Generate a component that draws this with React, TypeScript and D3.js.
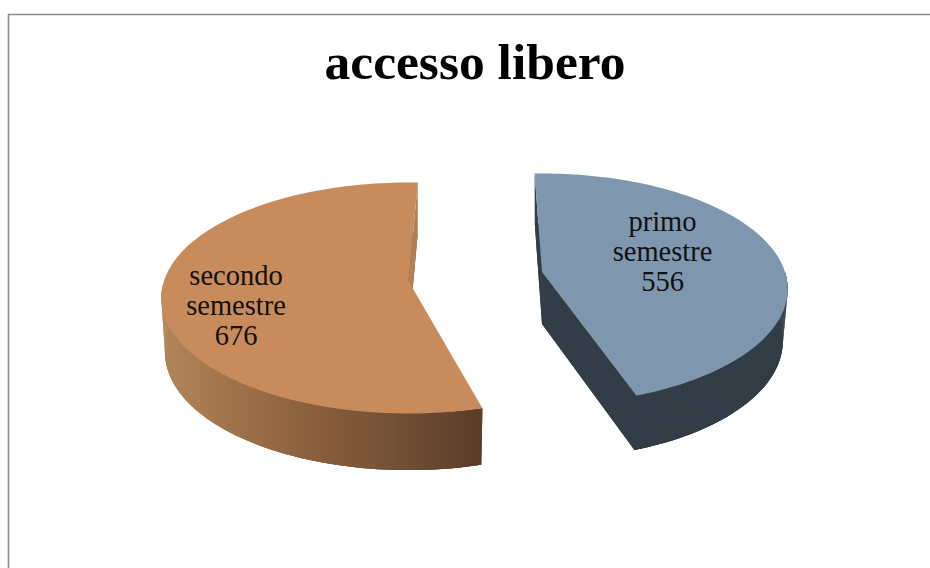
import React from "react";
import * as d3 from "d3";

const categories = ["primo semestre", "secondo semestre"];
const values = [556, 676];
const labelLines = [["primo", "semestre", "556"], ["secondo", "semestre", "676"]];
const title = "accesso libero";
const topColors = ["#7f97ae", "#c88b5c"];

const deg = Math.PI / 180;
// projection of the tilted disc
const RY = 113, PERSP = 0.147;
// per-slice placement (explosion)
const slices = [
  { ax: 542, ay: 272, rx: 243, rot: -2 * deg, depth: 52, sx: 0.98, sy: 1.02 },
  { ax: 408.5, ay: 281, rx: 244.5, rot: 2.5 * deg, depth: 54, sx: 0.985, sy: 1.02 },
];
const labelPos = [{ x: 662.5, y: 231 }, { x: 236, y: 285 }];

const pie = d3.pie<number>().sort(null).value((d) => d);
const arcs = pie(values);

type P = [number, number];
function project(i: number, t: number, bottom: boolean): P {
  const s = slices[i];
  const X = Math.sin(t), Y = Math.cos(t);
  const w = 1 + PERSP * Y;
  const kx = bottom ? s.sx : 1, ky = bottom ? s.sy : 1;
  return [s.ax + (s.rx * kx * X) / w, s.ay + (bottom ? s.depth : 0) - (RY * ky * Y) / w];
}
function arcPts(i: number, bottom: boolean): P[] {
  const a = arcs[i].startAngle + slices[i].rot, b = arcs[i].endAngle + slices[i].rot;
  return d3.range(0, 121).map((k) => project(i, a + ((b - a) * k) / 120, bottom));
}
const line = d3.line<P>();
const closed = (pts: P[]) => line(pts) + "Z";

export default function App() {
  return (
    <svg width={930} height={568} style={{ position: "absolute", left: 0, top: 0, background: "#fff" }}>
      <defs>
        <linearGradient id="wallO" gradientUnits="userSpaceOnUse" x1={161} x2={484} y1={0} y2={0}>
          <stop offset="0" stopColor="#b28559" />
          <stop offset="0.4" stopColor="#906440" />
          <stop offset="0.7" stopColor="#755135" />
          <stop offset="1" stopColor="#5a3c27" />
        </linearGradient>
      </defs>
      <path d="M8.5 568V14.5H930" fill="none" stroke="#8c8c8c" strokeWidth={1.6} />
      <text x={475} y={78.5} textAnchor="middle" fontFamily="Liberation Serif" fontWeight="bold" fontSize={50} textLength={301} lengthAdjust="spacingAndGlyphs" fill="#000">{title}</text>
      {categories.map((c, i) => {
        const top = arcPts(i, false), bot = arcPts(i, true);
        const s = slices[i];
        const apexT: P = [s.ax, s.ay], apexB: P = [s.ax, s.ay + s.depth];
        const wallFill = i === 0 ? "#323d47" : "url(#wallO)";
        const innerFill = i === 0 ? "#323d47" : "#b07f55";
        const first = i === 0 ? [top[0], bot[0], apexB, apexT] : [top[120], bot[120], apexB, apexT];
        const front = d3.range(0, 121).filter((k) => top[k][1] >= s.ay);
        const band = closed([...front.map((k) => top[k]), ...front.map((k) => bot[k]).reverse()]);
        const strips = front.slice(0, -1).map((k) => closed([top[k], top[k + 1], bot[k + 1], bot[k]]));
        return (
          <g key={c}>
            <path d={closed([apexB, ...bot])} fill={wallFill} />
            <path d={band} fill={wallFill} />
            {strips.map((d, k) => (
              <path key={k} d={d} fill={wallFill} />
            ))}
            {i === 0 && <path d={closed([top[120], bot[120], apexB, apexT])} fill={innerFill} />}
            <path d={closed(first as P[])} fill={innerFill} />
            <path d={closed([apexT, ...top])} fill={topColors[i]} />
            <text textAnchor="middle" fontFamily="Liberation Serif" fontSize={28.5} fill="#111">
              {labelLines[i].map((t, k) => (
                <tspan key={k} x={labelPos[i].x} y={labelPos[i].y + k * 30}>{t}</tspan>
              ))}
            </text>
          </g>
        );
      })}
    </svg>
  );
}
